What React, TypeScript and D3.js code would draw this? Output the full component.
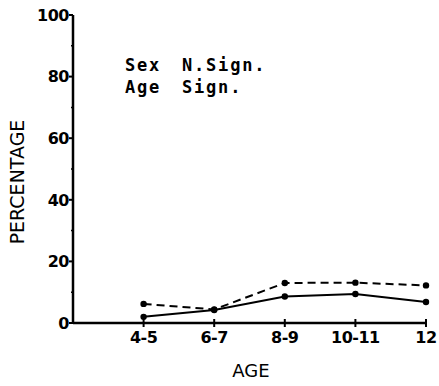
import React, { useEffect, useRef } from 'react';
import * as d3 from 'd3';

const ageGroups = ['4-5', '6-7', '8-9', '10-11', '12'];
const solidValues = [2, 4.2, 8.6, 9.4, 6.8];
const dashedValues = [6.2, 4.4, 13, 13.1, 12.2];
const yTicks = [0, 20, 40, 60, 80, 100];
const yMinorTicks = [10, 30, 50, 70, 90];
const notes = [
  { label: 'Sex', result: 'N.Sign.' },
  { label: 'Age', result: 'Sign.' },
];

export default function App() {
  const svgRef = useRef<SVGSVGElement>(null);

  useEffect(() => {
    if (!svgRef.current) return;
    const svg = d3.select(svgRef.current);
    svg.selectAll('*').remove();

    const x = d3.scaleLinear().domain([0, ageGroups.length]).range([73, 426]);
    const y = d3.scaleLinear().domain([0, 100]).range([323, 15]);

    const g = svg.append('g');
    const tickFont = '"DejaVu Sans", sans-serif';

    // axes lines
    g.append('line')
      .attr('x1', x(0)).attr('x2', x(0))
      .attr('y1', y(0)).attr('y2', y(100))
      .attr('stroke', '#000').attr('stroke-width', 2.5);
    g.append('line')
      .attr('x1', x(0)).attr('x2', x(ageGroups.length))
      .attr('y1', y(0)).attr('y2', y(0))
      .attr('stroke', '#000').attr('stroke-width', 2.5);

    // y ticks
    yTicks.forEach(t => {
      g.append('line')
        .attr('x1', x(0) - 4).attr('x2', x(0))
        .attr('y1', y(t)).attr('y2', y(t))
        .attr('stroke', '#000').attr('stroke-width', 2);
      g.append('text')
        .attr('x', x(0) - 4)
        .attr('y', y(t))
        .attr('dy', '0.36em')
        .attr('text-anchor', 'end')
        .attr('fill', '#000')
        .style('font-family', tickFont)
        .style('font-weight', 'bold')
        .style('font-size', '16px')
        .style('letter-spacing', '-0.5px')
        .text(t);
    });
    yMinorTicks.forEach(t => {
      g.append('line')
        .attr('x1', x(0) - 2).attr('x2', x(0))
        .attr('y1', y(t)).attr('y2', y(t))
        .attr('stroke', '#000').attr('stroke-width', 1.5);
    });

    // x ticks
    ageGroups.forEach((a, i) => {
      g.append('line')
        .attr('x1', x(i + 1)).attr('x2', x(i + 1))
        .attr('y1', y(0) - 4).attr('y2', y(0) + 4)
        .attr('stroke', '#000').attr('stroke-width', 2);
      g.append('text')
        .attr('x', x(i + 1))
        .attr('y', y(0) + 20)
        .attr('text-anchor', 'middle')
        .attr('fill', '#000')
        .style('font-family', tickFont)
        .style('font-weight', 'bold')
        .style('font-size', '16px')
        .style('letter-spacing', '-0.5px')
        .text(a);
    });

    // axis titles
    g.append('text')
      .attr('transform', `translate(24, ${(y(0) + y(100)) / 2 + 13}) rotate(-90)`)
      .attr('text-anchor', 'middle')
      .style('font-family', '"DejaVu Sans", sans-serif')
      .style('font-size', '19px')
      .text('PERCENTAGE');
    g.append('text')
      .attr('x', 251)
      .attr('y', 377)
      .attr('text-anchor', 'middle')
      .style('font-family', '"DejaVu Sans", sans-serif')
      .style('font-size', '18px')
      .text('AGE');

    // lines
    const lineGen = d3.line<number>()
      .x((_d, i) => x(i + 1))
      .y(d => y(d));

    g.append('path')
      .attr('d', lineGen(dashedValues))
      .attr('fill', 'none')
      .attr('stroke', '#000')
      .attr('stroke-width', 2)
      .attr('stroke-dasharray', '8,5');
    g.append('path')
      .attr('d', lineGen(solidValues))
      .attr('fill', 'none')
      .attr('stroke', '#000')
      .attr('stroke-width', 2);

    [dashedValues, solidValues].forEach(vals => {
      g.selectAll(null)
        .data(vals)
        .enter()
        .append('circle')
        .attr('cx', (_d, i) => x(i + 1))
        .attr('cy', d => y(d))
        .attr('r', 3.2)
        .attr('fill', '#000');
    });

    // notes
    notes.forEach((n, i) => {
      [
        { text: n.label, x: 125 },
        { text: n.result, x: 182 },
      ].forEach(p => {
        g.append('text')
          .attr('x', p.x)
          .attr('y', 71 + i * 22)
          .style('font-family', '"DejaVu Sans Mono", monospace')
          .style('font-weight', 'bold')
          .style('font-size', '17px')
          .style('letter-spacing', '1.8px')
          .text(p.text);
      });
    });
  }, []);

  return (
    <svg
      ref={svgRef}
      width={439}
      height={386}
      style={{ position: 'absolute', left: 0, top: 0, background: '#fff' }}
    />
  );
}
